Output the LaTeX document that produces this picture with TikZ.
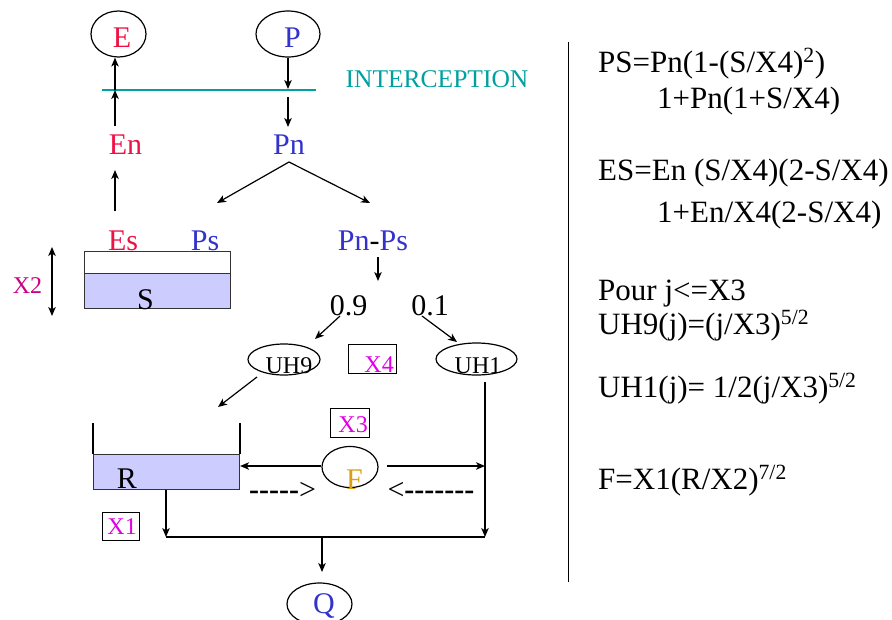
\documentclass[tikz,border=0pt]{standalone}
\usepackage{fontspec}
\setmainfont{Liberation Serif}[Ligatures=TeXOff]
\usetikzlibrary{arrows.meta,shapes.geometric}

\definecolor{evapred}{RGB}{238,17,68}
\definecolor{rainblue}{RGB}{51,51,204}
\definecolor{intercept}{RGB}{0,160,160}
\definecolor{parammag}{RGB}{225,0,230}
\definecolor{depthmag}{RGB}{200,0,130}
\definecolor{fluxgold}{RGB}{218,160,20}
\definecolor{storefill}{RGB}{204,204,255}

\begin{document}
\begin{tikzpicture}[x=1pt,y=-1pt,
  lbl/.style={inner sep=0pt,anchor=base,font=\fontsize{30}{36}\selectfont},
  small/.style={inner sep=0pt,anchor=base,font=\fontsize{24}{29}\selectfont},
  eqn/.style={inner sep=0pt,anchor=base west,font=\fontsize{31}{37}\selectfont},
  oval/.style={draw,ellipse,line width=1.2pt,inner sep=0pt},
  pbox/.style={draw,line width=1pt,inner sep=0pt,anchor=north west},
  store/.style={draw=black!80,line width=1.1pt,inner sep=0pt,anchor=north west},
  arr/.style={-{Stealth[length=9pt,width=7.5pt,inset=2.5pt]},line width=1.2pt},
  link/.style={line width=1.2pt}]
\useasboundingbox (0,0) rectangle (892,619);

% ---------- inputs / outputs
\node[oval,minimum width=55,minimum height=46] (eE) at (118.5,34) {};
\node[lbl,text=evapred] (tE) at (122,47) {E};
\node[oval,minimum width=64,minimum height=46] (eP) at (288,34) {};
\node[lbl,text=rainblue] (tP) at (292.5,47) {P};

% ---------- interception level
\coordinate (icL) at (102,90);
\coordinate (icR) at (316,90);
\draw[intercept,line width=1.3pt] (icL) -- (icR);
\node[inner sep=0pt,anchor=base,font=\fontsize{25.5}{30}\selectfont,text=intercept] (tInt) at (437,87) {INTERCEPTION};

\coordinate (eUp) at (115,126);
\coordinate (eCross) at (115,90);
\draw[arr] (eUp) -- (eCross);
\draw[arr] (eCross) -- (eCross |- eE.south);

\coordinate (pCross) at (288,89);
\coordinate (pBelow) at (288,97);
\coordinate (pnTop) at (288,127);
\draw[arr] (eP.south) -- (pCross);
\draw[arr] (pBelow) -- (pnTop);

\node[lbl,text=evapred] (tEn) at (125.5,154) {En};
\node[lbl,text=rainblue] (tPn) at (289,154) {Pn};

% ---------- soil store
\coordinate (esBot) at (115,211);
\coordinate (esTop) at (115,170);
\draw[arr] (esBot) -- (esTop);

\coordinate (split) at (289,162);
\coordinate (toPs) at (217,203);
\coordinate (toPr) at (370,203);
\draw[arr] (split) -- (toPs);
\draw[arr] (split) -- (toPr);

\node[lbl,text=evapred] (tEs) at (123,250) {Es};
\node[lbl,text=rainblue] (tPs) at (205,250) {Ps};
\node[lbl] (tPr) at (373,250) {\textcolor{rainblue}{Pn}-\textcolor{rainblue}{Ps}};

\node[store,fill=white,minimum width=146,minimum height=22] (sTop) at (84,251) {};
\node[store,fill=storefill,minimum width=146,minimum height=35] (sBox) at (84,273) {};
\node[lbl] (tS) at (145.5,309) {S};

\coordinate (x2a) at (52,247);
\coordinate (x2b) at (52,316);
\draw[{Stealth[length=9pt,width=7.5pt,inset=2.5pt]}-{Stealth[length=9pt,width=7.5pt,inset=2.5pt]},line width=1.2pt] (x2a) -- (x2b);
\node[small,text=depthmag] (tX2) at (27.5,293) {X2};

% ---------- routing split
\coordinate (prBot) at (378,257);
\coordinate (prEnd) at (378,281);
\draw[arr] (prBot) -- (prEnd);

\node[lbl] (t09) at (348.5,315) {0.9};
\node[lbl] (t01) at (430,315) {0.1};

\coordinate (a9s) at (340,316);
\coordinate (a9e) at (315,339);
\coordinate (a1s) at (422,316);
\coordinate (a1e) at (457,342);
\draw[arr] (a9s) -- (a9e);
\draw[arr] (a1s) -- (a1e);

\node[oval,minimum width=72,minimum height=31] (eUH9) at (284,359.5) {};
\node[small] (tUH9) at (289,373) {UH9};
\node[pbox,minimum width=48,minimum height=29] (bX4) at (348,344) {};
\node[small,anchor=base east,text=parammag] (tX4) at (394,372) {X4};
\node[oval,minimum width=81,minimum height=32] (eUH1) at (476.5,359) {};
\node[small] (tUH1) at (478,373) {UH1};

\node[pbox,minimum width=39,minimum height=29] (bX3) at (330,408) {};
\node[small,anchor=base east,text=parammag] (tX3) at (368,432) {X3};

% ---------- routing store
\coordinate (u9s) at (257,377);
\coordinate (u9e) at (218,407);
\draw[arr] (u9s) -- (u9e);

\node[store,fill=storefill,minimum width=146,minimum height=35] (rBox) at (93,454) {};
\coordinate (wallL) at (93,423);
\coordinate (wallR) at (240,423);
\draw[link] (wallL) -- (rBox.north west);
\draw[link] (wallR) -- (wallR |- rBox.north);
\node[lbl] (tR) at (127,488) {R};

\node[oval,minimum width=56,minimum height=41] (eF) at (350,467) {};
\node[lbl,text=fluxgold] (tF) at (354.5,489) {F};

\coordinate (fR) at (387,466);
\coordinate (uh1Top) at (485,382);
\coordinate (fHit) at (485,466);
\coordinate (qJoin) at (485,537);
\coordinate (rOut) at (166,537);
\coordinate (qMid) at (322,537);
\coordinate (qTip) at (322,572);

\draw[arr] (eF.west |- fR) -- (rBox.east |- fR);
\draw[arr] (fR) -- (fHit);
\draw[arr] (uh1Top) -- (qJoin);
\draw[arr] (rOut |- rBox.south) -- (rOut);
\draw[link] (rOut) -- (qJoin);
\draw[arr] (qMid) -- (qTip);

% exchange between the routing store and the groundwater flux
\node[lbl] (dR) at (282.5,499) {{\bfseries -----}>};
\node[lbl] (dL) at (431,499) {<{\bfseries -------}};

\node[pbox,minimum width=37,minimum height=28] (bX1) at (102,512) {};
\node[small,anchor=base east,text=parammag] (tX1) at (137,534) {X1};

\node[oval,minimum width=65,minimum height=42] (eQ) at (319.5,604) {};
\node[lbl,text=rainblue] (tQ) at (324,613) {Q};

% ---------- separator and equations
\coordinate (sepT) at (568,42);
\coordinate (sepB) at (568,582);
\draw[line width=1pt] (sepT) -- (sepB);

\node[eqn] (q1) at (598,72) {PS=Pn(1-(S/X4)\textsuperscript{2})};
\node[eqn] (q2) at (657,108) {1+Pn(1+S/X4)};
\node[eqn] (q3) at (598,180) {ES=En (S/X4)(2-S/X4)};
\node[eqn] (q4) at (657,222) {1+En/X4(2-S/X4)};
\node[eqn] (q5) at (598,300) {Pour j<=X3};
\node[eqn] (q6) at (598,334) {UH9(j)=(j/X3)\textsuperscript{5/2}};
\node[eqn] (q7) at (598,397) {UH1(j)= 1/2(j/X3)\textsuperscript{5/2}};
\node[eqn] (q8) at (598,489) {F=X1(R/X2)\textsuperscript{7/2}};
\end{tikzpicture}
\end{document}
